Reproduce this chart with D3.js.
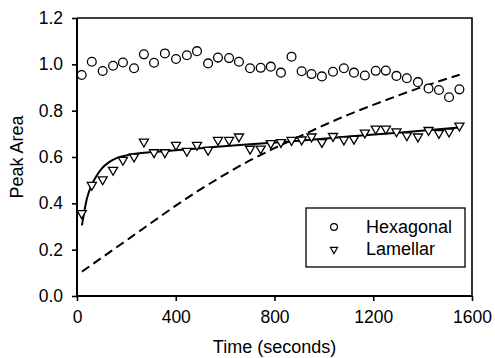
<!DOCTYPE html>
<html>
<head>
<meta charset="utf-8">
<script src="https://cdn.jsdelivr.net/npm/d3@7"></script>
<style>
  body { margin: 0; background: #fff; }
  svg { display: block; }
  text { font-family: "Liberation Sans", Arial, sans-serif; fill: #000; }
</style>
</head>
<body>
<svg width="495" height="358"></svg>
<script>
// Time points (seconds), shared by both series
const times = [19, 60, 104, 146, 186, 231, 271, 312, 356, 401, 445, 486, 531, 571, 616, 656, 701, 744, 785,
  826, 869, 910, 950, 992, 1037, 1081, 1122, 1166, 1210, 1251, 1294, 1336, 1381, 1424, 1466, 1507, 1549];

const hexagonal = [0.954, 1.011, 0.971, 0.994, 1.008, 0.983, 1.043, 1.007, 1.047, 1.023, 1.039, 1.057, 1.004,
  1.029, 1.027, 1.011, 0.983, 0.985, 0.99, 0.964, 1.033, 0.97, 0.958, 0.948, 0.968, 0.983, 0.964, 0.952,
  0.972, 0.973, 0.95, 0.94, 0.923, 0.896, 0.889, 0.858, 0.892];

const lamellar = [0.357, 0.479, 0.503, 0.544, 0.587, 0.601, 0.666, 0.62, 0.62, 0.652, 0.626, 0.652, 0.63,
  0.673, 0.673, 0.688, 0.635, 0.636, 0.659, 0.664, 0.673, 0.675, 0.688, 0.664, 0.69, 0.675, 0.678, 0.705,
  0.722, 0.722, 0.71, 0.693, 0.688, 0.716, 0.703, 0.709, 0.735];

// fitted curve through the lamellar points
const fitTimes = [20, 40, 60, 80, 100, 130, 160, 200, 260, 350, 500, 700, 900, 1100, 1300, 1550];
const fitValues = [0.305, 0.42, 0.48, 0.52, 0.55, 0.578, 0.595, 0.607, 0.617, 0.625, 0.638, 0.655, 0.67, 0.688, 0.705, 0.728];

// dashed curve
const dashTimes = [20, 100, 200, 300, 400, 500, 600, 700, 800, 900, 1000, 1100, 1200, 1300, 1400, 1550];
const dashValues = [0.105, 0.165, 0.24, 0.315, 0.39, 0.46, 0.525, 0.585, 0.638, 0.688, 0.737, 0.783, 0.825, 0.865, 0.903, 0.955];

const xTicks = [0, 400, 800, 1200, 1600];
const yTicks = [0, 0.2, 0.4, 0.6, 0.8, 1.0, 1.2];
const legendLabels = ['Hexagonal', 'Lamellar'];

const svg = d3.select('svg');
const width = +svg.attr('width');
const height = +svg.attr('height');
const margin = { top: 18, right: 23, bottom: 62, left: 77 };
const innerWidth = width - margin.left - margin.right;
const innerHeight = height - margin.top - margin.bottom;

const xScale = d3.scaleLinear().domain([0, 1600]).range([0, innerWidth]);
const yScale = d3.scaleLinear().domain([0, 1.2]).range([innerHeight, 0]);

const g = svg.append('g')
  .attr('transform', `translate(${margin.left},${margin.top})`);

// frame (top + right)
g.append('path')
  .attr('d', `M0,0H${innerWidth}V${innerHeight}`)
  .attr('fill', 'none')
  .attr('stroke', '#000')
  .attr('stroke-width', 1.6);

// axes
const xAxisG = g.append('g')
  .attr('transform', `translate(0,${innerHeight})`)
  .call(d3.axisBottom(xScale).tickValues(xTicks).tickSize(5).tickPadding(8).tickFormat(d3.format('d')));

const yAxisG = g.append('g')
  .call(d3.axisLeft(yScale).tickValues(yTicks).tickSize(5).tickPadding(9).tickFormat(d3.format('.1f')));

[xAxisG, yAxisG].forEach(a => {
  a.select('.domain').attr('stroke-width', 2).attr('d', a === xAxisG ? `M0,0H${innerWidth}` : `M0,0V${innerHeight}`);
  a.selectAll('.tick line').attr('stroke-width', 1.6);
  a.selectAll('.tick text')
    .style('font-family', '"Liberation Sans", Arial, sans-serif')
    .style('font-size', '17.5px');
});
xAxisG.selectAll('.tick text').attr('dy', '0.8em');

// axis labels
svg.append('text')
  .attr('x', margin.left + innerWidth / 2)
  .attr('y', 353)
  .attr('text-anchor', 'middle')
  .style('font-size', '18px')
  .text('Time (seconds)');

svg.append('text')
  .attr('transform', `translate(23,${margin.top + innerHeight / 2}) rotate(-90)`)
  .attr('text-anchor', 'middle')
  .style('font-size', '18px')
  .text('Peak Area');

// lines
const dashData = dashTimes.map((t, i) => [t, dashValues[i]]);
const fitData = fitTimes.map((t, i) => [t, fitValues[i]]);
const line = d3.line()
  .x(d => xScale(d[0]))
  .y(d => yScale(d[1]))
  .curve(d3.curveMonotoneX);

g.append('path')
  .datum(dashData)
  .attr('d', line)
  .attr('fill', 'none')
  .attr('stroke', '#000')
  .attr('stroke-width', 2)
  .attr('stroke-dasharray', '9,5');

g.append('path')
  .datum(fitData)
  .attr('d', line)
  .attr('fill', 'none')
  .attr('stroke', '#000')
  .attr('stroke-width', 2);

// markers
const triangle = d3.symbol().type(d3.symbolTriangle).size(36);

g.selectAll('.lam').data(times)
  .enter().append('path')
  .attr('class', 'lam')
  .attr('d', triangle)
  .attr('transform', (d, i) => `translate(${xScale(d)},${yScale(lamellar[i])}) rotate(180)`)
  .attr('fill', '#fff')
  .attr('stroke', '#000')
  .attr('stroke-width', 1.3);

g.selectAll('.hex').data(times)
  .enter().append('circle')
  .attr('class', 'hex')
  .attr('cx', d => xScale(d))
  .attr('cy', (d, i) => yScale(hexagonal[i]))
  .attr('r', 4.4)
  .attr('fill', '#fff')
  .attr('stroke', '#000')
  .attr('stroke-width', 1.3);

// legend
const legend = svg.append('g').attr('transform', 'translate(306,208)');
legend.append('rect')
  .attr('width', 159)
  .attr('height', 59)
  .attr('fill', '#fff')
  .attr('stroke', '#000')
  .attr('stroke-width', 1.3);

legend.append('circle')
  .attr('cx', 28)
  .attr('cy', 19)
  .attr('r', 3.4)
  .attr('fill', '#fff')
  .attr('stroke', '#000')
  .attr('stroke-width', 1.2);

legend.append('path')
  .attr('d', d3.symbol().type(d3.symbolTriangle).size(22))
  .attr('transform', 'translate(28,41.5) rotate(180)')
  .attr('fill', '#fff')
  .attr('stroke', '#000')
  .attr('stroke-width', 1.2);

legend.selectAll('.lbl').data(legendLabels)
  .enter().append('text')
  .attr('class', 'lbl')
  .attr('x', 60)
  .attr('y', (d, i) => 25 + i * 22)
  .style('font-size', '18px')
  .text(d => d);
</script>
</body>
</html>
